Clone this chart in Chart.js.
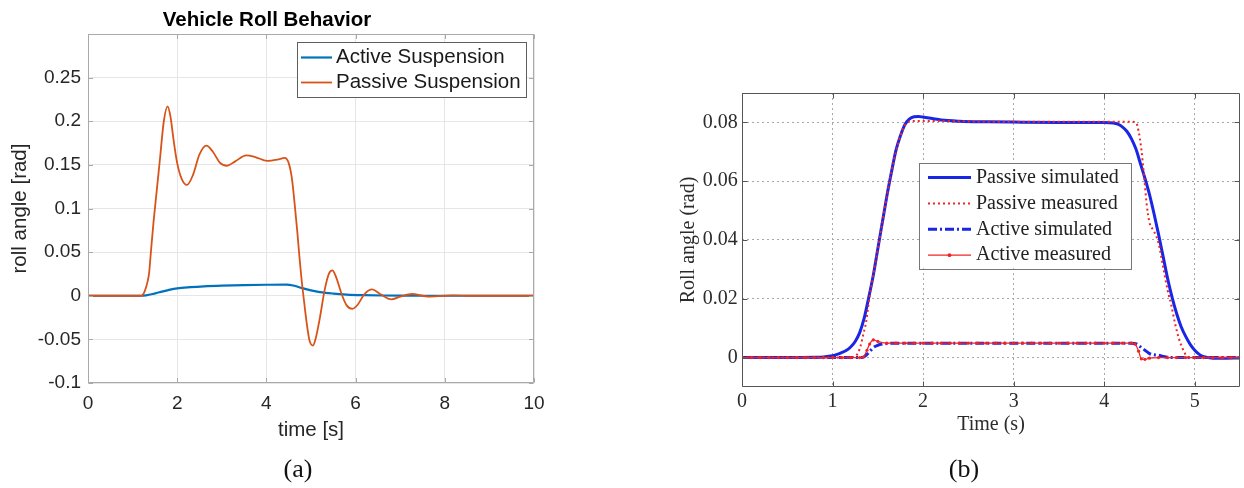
<!DOCTYPE html>
<html><head><meta charset="utf-8">
<script src="https://cdn.jsdelivr.net/npm/chart.js@4.4.1/dist/chart.umd.min.js"></script>
<style>
html,body{margin:0;padding:0;background:#fff;}
#wrap{position:relative;width:1244px;height:488px;overflow:hidden;background:#fff;}
#ca{position:absolute;left:0;top:0;}
#cb{position:absolute;left:670px;top:0;}
.cap{position:absolute;font-family:"Liberation Serif",serif;font-size:26px;color:#111;line-height:1;transform:translateX(-50%);white-space:nowrap;}
</style></head>
<body><div id="wrap">
<canvas id="ca" width="600" height="488"></canvas>
<canvas id="cb" width="574" height="488"></canvas>
<div class="cap" style="left:298px;top:456px">(a)</div>
<div class="cap" style="left:964px;top:456px">(b)</div>
</div>
<script>
// ---------- Panel (a) data ----------
const tPassiveA = [0,1.0,1.2,1.27,1.33,1.37,1.41,1.47,1.54,1.61,1.7,1.785,1.85,1.92,2.0,2.1,2.22,2.35,2.5,2.655,2.8,2.95,3.115,3.3,3.548,3.75,4.02,4.25,4.41,4.5,4.57,4.63,4.69,4.74,4.79,4.83,4.9,4.97,5.045,5.1,5.2,5.3,5.4,5.48,5.55,5.7,5.8,5.93,6.05,6.2,6.37,6.55,6.8,7.0,7.27,7.5,7.68,8.17,8.6,10];
const vPassiveA = [0,0,0,0.005,0.015,0.026,0.05,0.085,0.12,0.155,0.2,0.217,0.205,0.178,0.152,0.134,0.127,0.138,0.162,0.172,0.165,0.153,0.149,0.154,0.161,0.159,0.1545,0.156,0.158,0.152,0.135,0.107,0.075,0.045,0.018,0.0,-0.03,-0.052,-0.057,-0.05,-0.025,0.005,0.025,0.029,0.023,0.0,-0.011,-0.015,-0.01,0.002,0.0073,0.002,-0.0042,-0.001,0.002,0.0,-0.001,0.0005,0,0];
const tActiveA = [0,1.2,1.3,1.45,1.6,1.8,2.0,2.3,2.6,3.0,3.5,4.0,4.45,4.6,4.8,5.0,5.2,5.5,5.8,6.2,6.6,7.0,7.5,10];
const vActiveA = [0,0,0.0005,0.002,0.004,0.0065,0.0085,0.0098,0.0107,0.0115,0.0122,0.0126,0.0128,0.0118,0.0088,0.0062,0.0042,0.0025,0.0014,0.0007,0.0003,0.0001,0,0];
const xTicksA = [0,2,4,6,8,10];
const xTickLabelsA = ['0','2','4','6','8','10'];
const yTicksA = [-0.1,-0.05,0,0.05,0.1,0.15,0.2,0.25,0.3];
const yTickLabelsA = ['-0.1','-0.05','0','0.05','0.1','0.15','0.2','0.25',''];

// ---------- Panel (b) data ----------
const tPassiveSim = [0,0.5,0.8,0.9,1.0,1.05,1.1,1.15,1.2,1.25,1.3,1.35,1.4,1.45,1.5,1.55,1.6,1.65,1.7,1.75,1.8,1.85,1.9,1.95,2.0,2.1,2.2,2.4,2.7,3.0,3.5,4.0,4.1,4.15,4.2,4.25,4.3,4.35,4.4,4.45,4.5,4.55,4.6,4.65,4.7,4.75,4.8,4.85,4.9,4.95,5.0,5.05,5.1,5.15,5.2,5.3,5.5];
const vPassiveSim = [0,0,0.0001,0.0002,0.0006,0.0011,0.0017,0.0024,0.0036,0.0055,0.0085,0.0135,0.0205,0.028,0.037,0.046,0.055,0.063,0.0705,0.0755,0.0793,0.0812,0.0819,0.082,0.0818,0.0813,0.0808,0.0804,0.0802,0.0801,0.08,0.08,0.0798,0.0794,0.0785,0.077,0.0745,0.071,0.066,0.061,0.0555,0.049,0.042,0.0345,0.027,0.0205,0.015,0.0105,0.0072,0.0045,0.0025,0.0011,0.0003,0,-0.0002,-0.0002,-0.0001];
const tPassiveMeas = [0,1.0,1.2,1.25,1.28,1.31,1.34,1.37,1.41,1.45,1.5,1.55,1.6,1.65,1.7,1.75,1.8,1.85,1.9,2.2,2.6,3.0,3.5,4.0,4.3,4.35,4.38,4.41,4.44,4.47,4.5,4.55,4.6,4.65,4.7,4.74,4.78,4.82,4.86,4.9,4.95,5.5];
const vPassiveMeas = [0,0,0,0.0005,0.0015,0.004,0.008,0.012,0.021,0.028,0.037,0.046,0.055,0.063,0.07,0.0755,0.079,0.0803,0.0805,0.0805,0.0803,0.0802,0.0802,0.0802,0.0802,0.08,0.077,0.071,0.062,0.052,0.046,0.043,0.039,0.031,0.023,0.018,0.012,0.007,0.0035,0.001,0,0];
const tActiveSim = [0,1.3,1.35,1.38,1.42,1.45,1.5,1.55,1.6,1.7,2.0,3.0,4.0,4.3,4.35,4.38,4.41,4.45,4.49,4.52,4.56,4.6,4.64,4.7,4.75,5.5];
const vActiveSim = [0,0,0.0003,0.0011,0.0024,0.0034,0.0042,0.0046,0.0048,0.0049,0.0049,0.0049,0.0049,0.0049,0.0047,0.0042,0.0034,0.0025,0.0016,0.0011,0.0009,0.0008,0.0005,0.0001,0,0];
const tActiveMeas = [0,0.1,0.2,0.3,0.4,0.5,0.6,0.7,0.8,0.9,1.0,1.1,1.2,1.3,1.34,1.38,1.41,1.45,1.5,1.6,1.7,1.8,1.9,2.0,2.1,2.2,2.3,2.4,2.5,2.6,2.7,2.8,2.9,3.0,3.1,3.2,3.3,3.4,3.5,3.6,3.7,3.8,3.9,4.0,4.1,4.2,4.3,4.34,4.38,4.41,4.45,4.5,4.6,4.7,4.8,4.9,5.0,5.1,5.2,5.3,5.4,5.5];
const vActiveMeas = [0,0,0,0,0,0,0,0,0,0,0,0,0,0,0.0002,0.0025,0.0046,0.006,0.0055,0.0049,
  0.0049,0.0049,0.0049,0.0049,0.0049,0.0049,0.0049,0.0049,0.0049,0.0049,0.0049,0.0049,0.0049,0.0049,0.0049,0.0049,0.0049,0.0049,0.0049,0.0049,0.0049,0.0049,0.0049,0.0049,0.0049,0.0049,0.0049,
  0.0046,0.0022,-0.0004,-0.0006,-0.0002,0,0,0,0,0,0,0,0,0,0];
const xTicksB = [0,1,2,3,4,5];
const xTickLabelsB = ['0','1','2','3','4','5'];
const yTicksB = [0,0.02,0.04,0.06,0.08];
const yTickLabelsB = ['0','0.02','0.04','0.06','0.08'];

const pts = (ts, vs) => ts.map((t, i) => ({x: t, y: vs[i]}));

// ---------- plugins ----------
const framePlugin = {
  id: 'frameBox',
  afterDatasetsDraw(chart, args, o) {
    const {ctx, chartArea: a, scales} = chart;
    const L = Math.round(a.left) + 0.5, R = Math.round(a.right) - 0.5;
    const T = Math.round(a.top) + 0.5, B = Math.round(a.bottom) - 0.5;
    ctx.save();
    ctx.strokeStyle = o.color; ctx.lineWidth = 1; ctx.setLineDash([]);
    ctx.beginPath();
    ctx.rect(L, T, R - L, B - T);
    scales.x.ticks.forEach(t => {
      const px = Math.round(scales.x.getPixelForValue(t.value)) + 0.5;
      ctx.moveTo(px, B); ctx.lineTo(px, B - o.tick);
      ctx.moveTo(px, T); ctx.lineTo(px, T + o.tick);
    });
    scales.y.ticks.forEach(t => {
      const py = Math.round(scales.y.getPixelForValue(t.value)) + 0.5;
      ctx.moveTo(L, py); ctx.lineTo(L + o.tick, py);
      ctx.moveTo(R, py); ctx.lineTo(R - o.tick, py);
    });
    ctx.stroke();
    ctx.restore();
  }
};
const boxLegend = {
  id: 'boxLegend',
  afterDatasetsDraw(chart, args, o) {
    if (!o || !o.display) return;
    const ctx = chart.ctx;
    ctx.save();
    ctx.fillStyle = '#fff';
    ctx.fillRect(o.left, o.top, o.width, o.height);
    ctx.strokeStyle = o.borderColor; ctx.lineWidth = 1;
    ctx.strokeRect(Math.round(o.left) + 0.5, Math.round(o.top) + 0.5, Math.round(o.width), Math.round(o.height));
    chart.data.datasets.forEach((ds, i) => {
      const y = o.firstY + i * o.rowGap;
      ctx.beginPath();
      ctx.setLineDash(ds.borderDash || []);
      ctx.lineWidth = ds.borderWidth; ctx.strokeStyle = ds.borderColor;
      ctx.moveTo(o.x0, y); ctx.lineTo(o.x1, y); ctx.stroke();
      if (ds.pointRadius > 0) {
        ctx.setLineDash([]);
        ctx.beginPath(); ctx.arc((o.x0 + o.x1) / 2, y, ds.pointRadius + 0.3, 0, Math.PI * 2);
        ctx.fillStyle = ds.pointBackgroundColor; ctx.fill();
      }
      ctx.fillStyle = o.color; ctx.font = o.font; ctx.textBaseline = 'middle'; ctx.textAlign = 'left';
      ctx.fillText(ds.label, o.textX, y);
    });
    ctx.restore();
  }
};
const setTicks = arr => s => { s.ticks = arr.map(v => ({value: v})); };

// ---------- Chart (a) ----------
const SANS = 'Liberation Sans';
new Chart(document.getElementById('ca'), {
  type: 'line',
  data: { datasets: [
    { label: 'Active Suspension', data: pts(tActiveA, vActiveA), borderColor: '#0072BD', borderWidth: 2.2, pointRadius: 0, cubicInterpolationMode: 'monotone', order: 1 },
    { label: 'Passive Suspension', data: pts(tPassiveA, vPassiveA), borderColor: '#D95319', borderWidth: 1.8, pointRadius: 0, cubicInterpolationMode: 'monotone', order: 0 }
  ]},
  options: {
    responsive: false, animation: false, devicePixelRatio: 1,
    layout: { padding: { left: 0, right: 66, top: 0, bottom: 45 } },
    plugins: {
      legend: { display: false }, tooltip: { enabled: false },
      title: { display: true, text: 'Vehicle Roll Behavior', color: '#000', font: { family: SANS, size: 20.5, weight: 'bold' }, padding: { top: 7.7, bottom: 1.7 } },
      frameBox: { color: '#a9a9a9', tick: 4.5 },
      boxLegend: { display: true, left: 297, top: 42, width: 229, height: 55, borderColor: '#5e5e5e',
        firstY: 57.5, rowGap: 25, x0: 301, x1: 332, textX: 336, color: '#1a1a1a', font: '20.5px "Liberation Sans"' }
    },
    scales: {
      x: { type: 'linear', min: 0, max: 10, afterBuildTicks: setTicks(xTicksA), afterFit: s => { s.height = 60; },
        grid: { color: '#e6e6e6', drawTicks: false }, border: { display: false },
        ticks: { padding: 9, autoSkip: false, maxRotation: 0, color: '#262626', font: { family: SANS, size: 19 }, callback: (v, i) => xTickLabelsA[i] },
        title: { display: true, text: 'time [s]', color: '#262626', font: { family: SANS, size: 20.5 }, padding: { top: 0, bottom: 0.7 } } },
      y: { type: 'linear', min: -0.1, max: 0.3, afterBuildTicks: setTicks(yTicksA), afterFit: s => { s.width = 88; },
        grid: { color: '#e6e6e6', drawTicks: false }, border: { display: false },
        ticks: { padding: 7, autoSkip: false, color: '#262626', font: { family: SANS, size: 19 }, callback: (v, i) => yTickLabelsA[i] },
        title: { display: true, text: 'roll angle [rad]', color: '#262626', font: { family: SANS, size: 20.5 }, padding: { top: 8.3, bottom: 0 } } }
    }
  },
  plugins: [framePlugin, boxLegend]
});

// ---------- Chart (b) ----------
const SERIF = 'Liberation Serif';
const BLUE = '#1a26e6', RED = '#f02424';
new Chart(document.getElementById('cb'), {
  type: 'line',
  data: { datasets: [
    { label: 'Passive simulated', data: pts(tPassiveSim, vPassiveSim), borderColor: BLUE, borderWidth: 3, pointRadius: 0, cubicInterpolationMode: 'monotone', order: 4 },
    { label: 'Passive measured', data: pts(tPassiveMeas, vPassiveMeas), borderColor: RED, borderWidth: 2, borderDash: [2, 3], pointRadius: 0, cubicInterpolationMode: 'monotone', order: 2 },
    { label: 'Active simulated', data: pts(tActiveSim, vActiveSim), borderColor: BLUE, borderWidth: 3, borderDash: [9, 3, 2, 3], pointRadius: 0, cubicInterpolationMode: 'monotone', order: 3 },
    { label: 'Active measured', data: pts(tActiveMeas, vActiveMeas), borderColor: RED, borderWidth: 1.2, pointRadius: 1.6, pointBorderWidth: 0, pointBackgroundColor: RED, pointStyle: 'circle', cubicInterpolationMode: 'monotone', order: 1 }
  ]},
  options: {
    responsive: false, animation: false, devicePixelRatio: 1,
    layout: { padding: { left: 7, right: 4, top: 93, bottom: 41 } },
    plugins: {
      legend: { display: false }, tooltip: { enabled: false },
      frameBox: { color: '#555', tick: 5 },
      boxLegend: { display: true, left: 249.3, top: 162.7, width: 212.4, height: 105.6, borderColor: '#777',
        firstY: 177.5, rowGap: 25.9, x0: 258, x1: 301, textX: 306, color: '#222', font: '20px "Liberation Serif"' }
    },
    scales: {
      x: { type: 'linear', min: 0, max: 5.5, afterBuildTicks: setTicks(xTicksB), afterFit: s => { s.height = 60; },
        grid: { color: '#a8a8a8', lineWidth: 1, drawTicks: false }, border: { display: false, dash: [2, 3] },
        ticks: { padding: 3, autoSkip: false, maxRotation: 0, color: '#2b2b2b', font: { family: SERIF, size: 20 }, callback: (v, i) => xTickLabelsB[i] },
        title: { display: true, text: 'Time (s)', color: '#2b2b2b', font: { family: SERIF, size: 20 }, padding: { top: 0, bottom: 10 } } },
      y: { type: 'linear', min: -0.01, max: 0.09, afterBuildTicks: setTicks(yTicksB), afterFit: s => { s.width = 65; },
        grid: { color: '#a8a8a8', lineWidth: 1, drawTicks: false }, border: { display: false, dash: [2, 3] },
        ticks: { padding: 4.3, autoSkip: false, color: '#2b2b2b', font: { family: SERIF, size: 20 }, callback: (v, i) => yTickLabelsB[i] },
        title: { display: true, text: 'Roll angle (rad)', color: '#2b2b2b', font: { family: SERIF, size: 20 }, padding: { top: 0, bottom: 0 } } }
    }
  },
  plugins: [framePlugin, boxLegend]
});
</script>
</body></html>
